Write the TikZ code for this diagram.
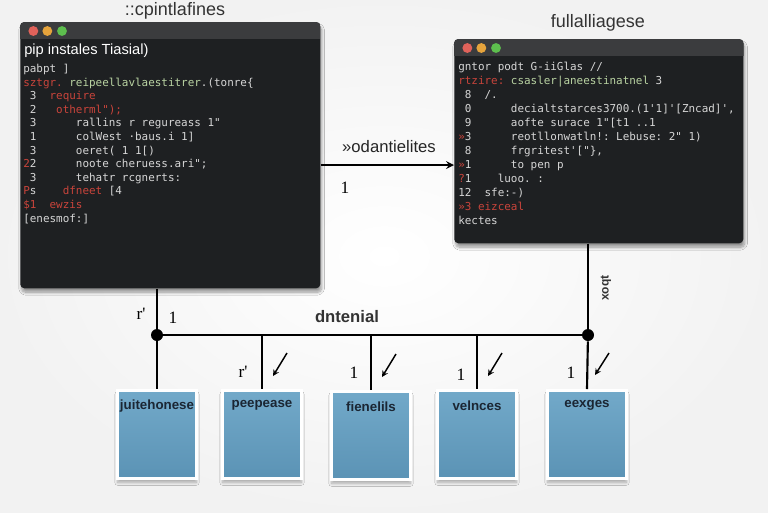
\documentclass[tikz,border=0pt]{standalone}
\usepackage{fontspec}
\setmainfont{Liberation Sans}
\setmonofont{DejaVu Sans Mono}
\newfontfamily\numfont{Liberation Serif}
\usepackage{xcolor}
\usepackage{tikz}
\usetikzlibrary{shapes,arrows,positioning,shadows.blur}

\definecolor{termbg}{HTML}{1E2022}
\definecolor{termbar}{HTML}{3B3C3E}
\definecolor{codefg}{HTML}{D6D6D6}
\definecolor{codered}{HTML}{C9443B}
\definecolor{codegrn}{HTML}{B9D3A2}
\definecolor{dotred}{HTML}{E0625A}
\definecolor{dotorg}{HTML}{E6A43C}
\definecolor{dotgrn}{HTML}{5DBE4E}
\definecolor{leaftop}{HTML}{72A9C9}
\definecolor{leafbot}{HTML}{5B93B5}
\definecolor{inkgray}{HTML}{333333}
\definecolor{leafink}{HTML}{1B2633}

\newcommand\cred[1]{\textcolor{codered}{#1}}
\newcommand\cgrn[1]{\textcolor{codegrn}{#1}}

\begin{document}
\begin{tikzpicture}[
    x=0.75pt, y=-0.75pt,
    term/.style={rectangle, fill=termbg, rounded corners=3pt, anchor=north west, inner sep=0pt,
        blur shadow={shadow xshift=1pt, shadow yshift=-3pt, shadow opacity=40, shadow blur steps=10}},
    code/.style={anchor=north west, inner sep=0pt, align=left, text=codefg, font=\ttfamily\fontsize{8.2}{10.2}\selectfont},
    title/.style={font=\fontsize{13.5}{15}\selectfont, text=inkgray},
    leaf/.style={rectangle, draw=white, line width=2.2pt, top color=leaftop, bottom color=leafbot,
        minimum width=59pt, minimum height=66pt, anchor=north,
        blur shadow={shadow xshift=0pt, shadow yshift=-3pt, shadow opacity=30, shadow blur steps=8}},
    leaftxt/.style={font=\bfseries\fontsize{10}{12}\selectfont, text=leafink, inner sep=0pt},
    wire/.style={line width=1.6pt, black},
    arrow/.style={->, line width=1.6pt, >=stealth},
    tick/.style={->, line width=1.1pt, >=stealth},
    junction/.style={circle, fill=black, minimum size=9pt, inner sep=0pt},
    num/.style={font=\numfont\fontsize{13}{14}\selectfont, inner sep=0pt}
]

% page
\useasboundingbox (0,0) rectangle (768,512);
\shade[inner color=white, outer color=black!5] (0,0) rectangle (768,512);

% terminal windows
\node[term, minimum width=225pt, minimum height=199.5pt] (termL) at (20,22) {};
\node[term, minimum width=216.75pt, minimum height=153pt] (termR) at (454,39) {};

\foreach \w in {termL,termR} {
  \begin{scope}
    \clip[rounded corners=3pt] (\w.north west) rectangle (\w.south east);
    \fill[termbar] (\w.north west) rectangle ([yshift=-12.5pt]\w.north east);
  \end{scope}
  \fill[dotred] ([xshift=10pt,yshift=-6.75pt]\w.north west) circle[radius=3.7pt];
  \fill[dotorg] ([xshift=20.5pt,yshift=-6.75pt]\w.north west) circle[radius=3.7pt];
  \fill[dotgrn] ([xshift=31.5pt,yshift=-6.75pt]\w.north west) circle[radius=3.7pt];
}

\node[title] (ttlL) at (175,11) {::cpintlafines};
\node[title] (ttlR) at (598,23) {fullalliagese};

\node[anchor=west, inner sep=0pt, text=white, font=\fontsize{11}{13}\selectfont] (headL) at (24,51) {pip instales Tiasial)};

\node[code] (codeL) at (23,64) {%
pabpt ]\\
\cred{sztgr.}~\cgrn{reipeellavlaestitrer}.(tonre\{\\
~3~~\cred{require}\\
~2~~~\cred{otherml");}\\
~3~~~~~~rallins r regureass 1"\\
~1~~~~~~colWest ·baus.i 1]\\
~3~~~~~~oeret( 1 1[)\\
\cred{2}2~~~~~~noote cheruess.ari";\\
~3~~~~~~tehatr rcgnerts:\\
\cred{P}s~~~~\cred{dfneet} [4\\
\cred{\$1}~~\cred{ewzis}\\
{[}enesmof:]};

\node[code, font=\ttfamily\fontsize{8.2}{10.5}\selectfont] (codeR) at (458,62) {%
gntor podt G-iiGlas //\\
\cred{rtzire:}~\cgrn{csasler|aneestinatnel} 3\\
~8~~/.\\
~0~~~~~~decialtstarces3700.(1'1]'[Zncad]',\\
~9~~~~~~aofte surace 1"[t1 ..1\\
\cred{»}3~~~~~~reotllonwatln!: Lebuse: 2" 1)\\
~8~~~~~~frgritest'["\},\\
\cred{»}1~~~~~~to pen p\\
\cred{?}1~~~~luoo. :\\
12~~sfe:-)\\
\cred{»3 eizceal}\\
kectes};

% arrow between windows
\coordinate (aL) at (termL.east |- 0,165);
\draw[arrow] (aL) -- (aL -| termR.west);
\node[font=\fontsize{12.5}{14}\selectfont, text=black!85] (arrtxt) at (389,147) {»odantielites};
\node[num] (arrnum) at (345,188) {1};

% bus
\node[junction] (j1) at (157,335) {};
\node[junction] (j2) at (588,335) {};
\draw[wire] (termL.south -| j1) -- (j1);
\draw[wire] (termR.south -| j2) -- (j2);
\draw[wire] (j1) -- (j2);
\node[font=\bfseries\fontsize{12.5}{14}\selectfont, text=inkgray] (bustxt) at (347,317) {dntenial};
\node[num] (n0a) at (141,314) {r'};
\node[num] (n0b) at (173,318) {1};
\node[rotate=90, font=\bfseries\fontsize{9}{10}\selectfont, text=inkgray] (vtxt) at (606,288) {xoqt};

% leaf boxes
\node[leaf] (b1) at (157,389) {};
\node[leaf] (b2) at (262,389) {};
\node[leaf] (b3) at (371,390) {};
\node[leaf] (b4) at (477,389) {};
\node[leaf] (b5) at (587,389) {};

\node[leaftxt] (t1) at ([yshift=-12.5pt]b1.north) {juitehonese};
\node[leaftxt] (t2) at ([yshift=-12.5pt]b2.north) {peepease};
\node[leaftxt] (t3) at ([yshift=-12.5pt]b3.north) {fienelils};
\node[leaftxt] (t4) at ([yshift=-12.5pt]b4.north) {velnces};
\node[leaftxt] (t5) at ([yshift=-12.5pt]b5.north) {eexges};

\draw[wire] (j1) -- (b1.north);
\draw[wire] (j2) -- (b5.north);
\foreach \b in {b2,b3,b4} \draw[wire] (\b.north |- j1) -- (\b.north);
\foreach \b in {b2,b3,b4} \draw[tick] ([shift={(25,-36)}]\b.north) -- ([shift={(11,-13)}]\b.north);
\draw[tick] ([shift={(22,-36)}]b5.north) -- ([shift={(8,-14)}]b5.north);

\node[num] (n2) at (243,372) {r'};
\node[num] (n3) at (354,373) {1};
\node[num] (n4) at (461,375) {1};
\node[num] (n5) at (571,373) {1};

\end{tikzpicture}
\end{document}
